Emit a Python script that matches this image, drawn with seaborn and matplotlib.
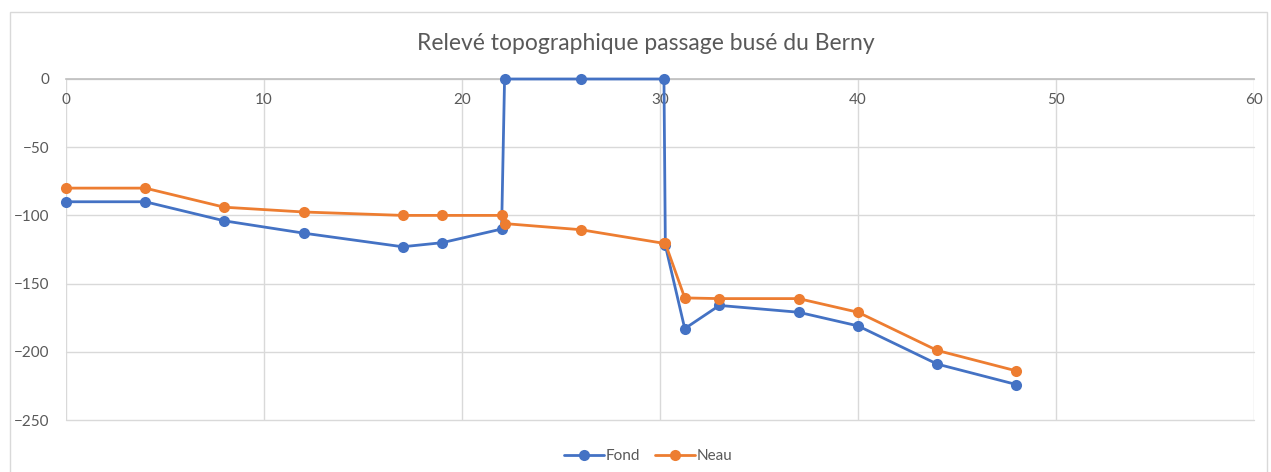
import matplotlib
matplotlib.use("Agg")
import matplotlib.pyplot as plt
import seaborn as sns
import pandas as pd
from matplotlib.patches import Rectangle

x_vals = [0, 4, 8, 12, 17, 19, 22, 22.15, 26, 30.2, 30.27, 31.25, 33, 37, 40, 44, 48]
fond = [-90, -90, -104, -113, -123, -120, -110, 0, 0, 0, -122, -183, -166, -171, -181, -209, -224]
neau = [-80, -80, -94, -97.5, -100, -100, -100, -106, -110.5, -120.5, -120.5, -160.5, -161, -161, -171, -199, -214]
series_names = ["Fond", "Neau"]
title = "Relevé topographique passage busé du Berny"
x_ticks = [0, 10, 20, 30, 40, 50, 60]
y_ticks = [0, -50, -100, -150, -200, -250]

df = pd.concat([
    pd.DataFrame({"x": x_vals, "y": fond, "serie": series_names[0]}),
    pd.DataFrame({"x": x_vals, "y": neau, "serie": series_names[1]}),
], ignore_index=True)

sns.set_theme(style="white")
plt.rcParams["font.family"] = ["Lato", "DejaVu Sans"]

fig = plt.figure(figsize=(12.71, 4.72), dpi=100)
ax = fig.add_axes([66 / 1271, 1 - 420 / 472, (1254 - 66) / 1271, (420 - 79) / 472])

palette = {"Fond": "#4472C4", "Neau": "#ED7D31"}
sns.lineplot(data=df, x="x", y="y", hue="serie", palette=palette, marker="o",
             sort=False, estimator=None, linewidth=2.0, markersize=8,
             markeredgewidth=0, ax=ax, zorder=3)
for ln in ax.lines:
    ln.set_clip_on(False)

ax.set_xlim(0, 60)
ax.set_ylim(-250, 0)
ax.set_xticks(x_ticks)
ax.set_yticks(y_ticks)
ax.grid(True, color="#d9d9d9", linewidth=1.0)
for gl in ax.get_xgridlines() + ax.get_ygridlines():
    gl.set_clip_on(False)
ax.set_axisbelow(True)
for s in ["top", "right", "left"]:
    ax.spines[s].set_visible(False)
ax.spines["bottom"].set_position(("data", 0))
ax.spines["bottom"].set_color("#bfbfbf")
ax.spines["bottom"].set_linewidth(1.2)
ax.tick_params(axis="both", length=0, labelsize=11, labelcolor="#595959")
ax.tick_params(axis="y", pad=12)
ax.tick_params(axis="x", pad=10)
ax.set_xlabel("")
ax.set_ylabel("")

leg = ax.legend(loc="center", bbox_to_anchor=(648 / 1271, 1 - 456 / 472),
                bbox_transform=fig.transFigure, ncol=2, frameon=False,
                fontsize=11, handlelength=2.6, columnspacing=1.0, handletextpad=0.1)
for t in leg.get_texts():
    t.set_color("#595959")

fig.text(646 / 1271, 1 - 44 / 472, title, ha="center", va="center",
         fontsize=16.5, color="#595959")

fig.patches.append(Rectangle((10 / 1271, -0.05), (1267 - 10) / 1271, 1.05 - 12 / 472,
                             transform=fig.transFigure, fill=False,
                             edgecolor="#d9d9d9", linewidth=1.0))

fig.savefig("out.png", dpi=100)
